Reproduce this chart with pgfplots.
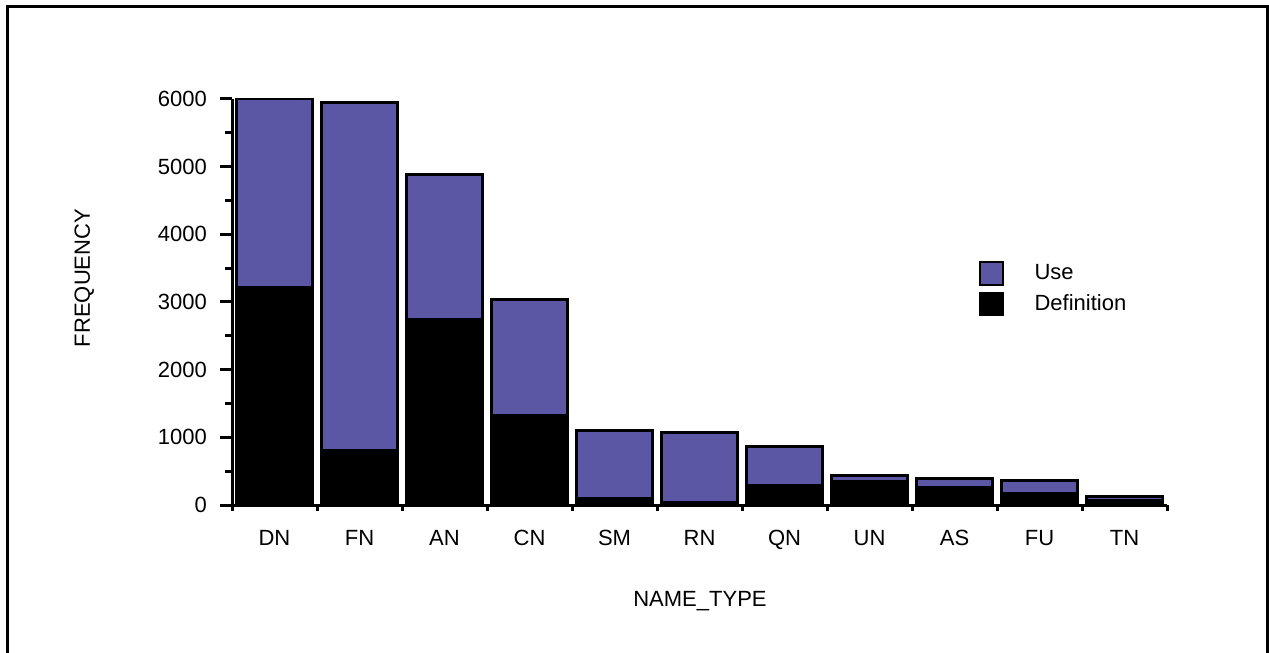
\documentclass[border=0pt]{standalone}
\usepackage{pgfplots}
\usepackage{pgfplotstable}
\pgfplotsset{compat=1.18}
\usepackage{fontspec}
\setmainfont{Liberation Sans}
\definecolor{usec}{RGB}{91,87,164}
\pgfplotstableread{
x name def use
1 DN 3210 2790
2 FN 810 5140
3 AN 2740 2140
4 CN 1320 1710
5 SM 90 1010
6 RN 40 1035
7 QN 290 580
8 UN 345 95
9 AS 256 139
10 FU 177 188
11 TN 64 59
}\datatab
\begin{document}
\begin{tikzpicture}[font=\fontsize{11}{13}\selectfont]
\path[use as bounding box] (0,0) rectangle (634.5pt,326.5pt);
\draw[line width=1.5pt] (3.5pt,0) -- (3.5pt,323pt) -- (633.75pt,323pt) -- (633.75pt,0);
\begin{axis}[
  at={(116pt,74pt)}, anchor=south west,
  scale only axis, width=467.5pt, height=203pt,
  ybar stacked, bar width=0.89,
  xmin=0.5, xmax=11.5, ymin=0, ymax=6000,
  axis lines*=left,
  axis line style={line width=1.5pt},
  /pgf/number format/assume math mode=true,
  /pgf/number format/1000 sep={},
  xtick={1,...,11},
  xticklabels={DN,FN,AN,CN,SM,RN,QN,UN,AS,FU,TN},
  xticklabel style={yshift=-3pt},
  yticklabel style={xshift=-3pt},
  major x tick style={draw=none},
  extra x ticks={0.5,1.5,...,11.5},
  extra x tick labels={},
  extra x tick style={major tick length=3pt, major x tick style={draw=black,line width=1.5pt}},
  ytick={0,1000,...,6000},
  minor ytick={500,1500,...,5500},
  tick align=outside,
  major tick length=6pt, minor tick length=3.5pt,
  tick style={line width=1.5pt, black},
  xlabel={NAME\_TYPE},
  ylabel={FREQUENCY},
  xlabel style={at={(axis description cs:0.5005,-0.251)}, anchor=base},
  ylabel style={at={(axis description cs:-0.158,0.559)}, anchor=center},
  reverse legend,
  legend cell align=left,
  legend style={at={(axis description cs:0.7925,0.613)}, anchor=north west, draw=none, fill=none, row sep=2pt,
    /tikz/every odd column/.append style={column sep=13.5pt}},
  legend image code/.code={\draw[#1,line width=0.6pt] (0pt,-5.75pt) rectangle (11.5pt,5.75pt);},
]
\addplot[fill=black, draw=black, line width=1.5pt] table[x=x,y=def]{\datatab};
\addlegendentry{Definition}
\addplot[fill=usec, draw=black, line width=1.5pt] table[x=x,y=use]{\datatab};
\addlegendentry{Use}
\end{axis}
\end{tikzpicture}
\end{document}
